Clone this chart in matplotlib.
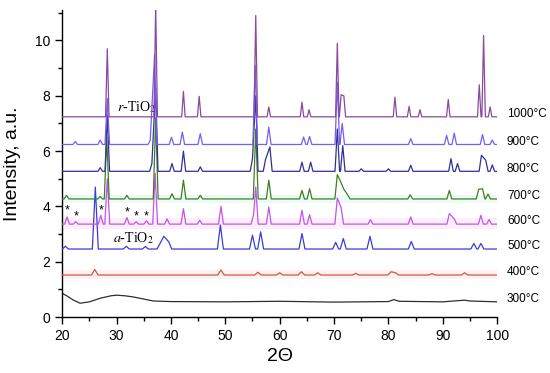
import matplotlib
matplotlib.use("Agg")
import matplotlib.pyplot as plt
from matplotlib.ticker import MultipleLocator

plt.rcParams['font.family'] = ['Liberation Sans', 'DejaVu Sans']

# temperatures (labels at right) and baseline levels
temps = ['300°C', '400°C', '500°C', '600°C', '700°C', '800°C', '900°C', '1000°C']
bases = [0.55, 1.52, 2.46, 3.36, 4.27, 5.27, 6.24, 7.24]
colors = ['#2e2e2e', '#cf5a36', '#3b3bdc', '#c254e8', '#3f7f22', '#30309a', '#7a5cf0', '#8a4a9e']

# 300 C: amorphous, traced as points
x300 = [20, 21, 22, 23.3, 25, 27, 29, 30, 31.5, 33, 35, 36.8, 40, 50, 60, 70, 80, 81, 82, 90, 94, 95, 100]
y300 = [0.86, 0.75, 0.62, 0.5, 0.55, 0.68, 0.77, 0.79, 0.77, 0.73, 0.65, 0.58, 0.56, 0.55, 0.57, 0.54, 0.56, 0.63, 0.57, 0.55, 0.61, 0.58, 0.55]

# peak positions (2-theta) and tops for the other patterns
pk400 = [26.0, 49.2, 56.0, 60.0, 64.0, 67.0, 74.0, 80.5, 81.3, 88.0, 94.0]
ht400 = [1.72, 1.70, 1.62, 1.6, 1.64, 1.6, 1.58, 1.64, 1.6, 1.57, 1.6]

pk500 = [20.6, 26.1, 31.8, 35.3, 38.0, 38.7, 39.6, 49.1, 55.0, 56.5, 64.1, 70.3, 71.7, 76.6, 84.2, 95.7, 97.0]
ht500 = [2.56, 4.70, 2.56, 2.55, 2.66, 2.92, 2.72, 3.33, 2.96, 3.08, 3.02, 2.70, 2.84, 2.92, 2.73, 2.66, 2.66]

pk600 = [20.9, 22.5, 27.1, 28.3, 31.9, 33.6, 35.5, 37.1, 39.3, 42.3, 45.3, 49.2, 55.2, 55.6, 58.0,
         64.1, 65.5, 70.6, 71.3, 76.7, 84.1, 91.2, 92.1, 97.0, 98.5]
ht600 = [3.62, 3.45, 3.68, 5.0, 3.60, 3.45, 3.48, 5.2, 3.55, 3.92, 3.50, 4.0, 3.7, 4.7, 3.98,
         3.86, 3.70, 4.3, 3.95, 3.52, 3.62, 3.74, 3.55, 3.68, 3.52]

pk700 = [20.8, 27.0, 28.2, 31.9, 37.2, 40.2, 42.3, 45.4, 55.6, 58.0, 64.1, 65.5, 70.6, 71.2, 71.8, 72.5,
         84.0, 91.2, 96.6, 97.3, 98.3]
ht700 = [4.40, 4.36, 6.5, 4.40, 7.2, 4.46, 4.95, 4.40, 6.8, 4.95, 4.58, 4.64, 5.15, 4.9, 4.62, 4.42,
         4.42, 4.58, 4.62, 4.64, 4.45]

pk800 = [27.0, 28.3, 36.5, 37.2, 40.2, 42.3, 45.4, 55.0, 55.6, 57.4, 58.2, 64.1, 65.7, 70.6, 71.6,
         75.0, 80.0, 84.1, 91.5, 92.7, 97.1, 97.9, 99.1]
ht800 = [5.40, 7.3, 5.55, 8.3, 5.55, 6.0, 5.43, 5.73, 8.0, 5.7, 6.15, 5.6, 5.6, 6.8, 6.2,
         5.36, 5.36, 5.49, 5.73, 5.55, 5.85, 5.67, 5.50]

pk900 = [22.4, 27.0, 28.3, 36.2, 37.0, 40.1, 42.1, 45.4, 55.5, 58.0, 64.4, 65.5, 70.6, 71.5,
         84.1, 90.7, 92.1, 97.3, 99.1]
ht900 = [6.35, 6.40, 7.9, 6.39, 9.5, 6.50, 6.69, 6.63, 9.1, 6.87, 6.51, 6.53, 8.5, 7.0,
         6.45, 6.57, 6.65, 6.60, 6.40]

pk1000 = [28.3, 37.2, 42.3, 45.2, 55.6, 58.0, 64.1, 65.4, 70.6, 71.3, 71.8, 81.2, 83.8, 85.8,
          91.0, 96.7, 97.5, 98.7]
ht1000 = [9.7, 11.3, 8.16, 7.98, 10.9, 7.6, 7.77, 7.5, 9.9, 8.04, 8.0, 7.95, 7.62, 7.5,
          7.87, 8.4, 10.18, 7.6]

peaks = [None, (pk400, ht400), (pk500, ht500), (pk600, ht600), (pk700, ht700),
         (pk800, ht800), (pk900, ht900), (pk1000, ht1000)]
widths = [0, 0.6, 0.55, 0.45, 0.45, 0.42, 0.42, 0.32]

# light halo bands seen behind some patterns: (low, high, colour)
bands = {1: (1.36, 1.70, '#fef1f4'), 3: (3.18, 3.58, '#fdeefa'), 4: (4.13, 4.42, '#ecfbf8')}


def trace(base, pos, hgt, hw):
    xs, ys = [20], [base]
    for p, h in sorted(zip(pos, hgt)):
        if xs[-1] > p - hw:
            # overlapping with previous peak: drop its right foot
            xs.pop(); ys.pop()
        else:
            xs.append(p - hw); ys.append(base)
        xs += [p, p + hw]
        ys += [h, base]
    xs.append(100); ys.append(base)
    return xs, ys


fig = plt.figure(figsize=(5.5, 3.73), dpi=100)
ax = fig.add_axes([0.113, 0.150, 0.791, 0.823])

for i, lab in enumerate(temps):
    if i in bands:
        lo, hi, bc = bands[i]
        ax.fill_between([20, 100], lo, hi, color=bc, lw=0, zorder=0)
    if peaks[i] is None:
        xs, ys = x300, y300
    else:
        xs, ys = trace(bases[i], peaks[i][0], peaks[i][1], widths[i])
    ax.plot(xs, ys, color=colors[i], lw=0.9, zorder=2 + i)
    ax.text(101.8, bases[i] + 0.1, lab, fontsize=8.5, va='center', ha='left', clip_on=False)

# annotations
ax.text(30.0, 7.6, r'$r$-TiO$_2$', fontsize=10, family=['Liberation Serif'],
        math_fontfamily='stix', va='center')
ax.text(29.4, 2.85, r'$a$-TiO$_2$', fontsize=10, family=['Liberation Serif'],
        math_fontfamily='stix', va='center')
star_x = [20.9, 22.5, 27.1, 31.9, 33.6, 35.5]
star_y = [3.86, 3.62, 3.86, 3.77, 3.65, 3.65]
for sx, sy in zip(star_x, star_y):
    ax.text(sx, sy, '*', fontsize=9, ha='center', va='center')

ax.set_xlim(20, 100)
ax.set_ylim(0, 11.1)
ax.xaxis.set_major_locator(MultipleLocator(10))
ax.xaxis.set_minor_locator(MultipleLocator(5))
ax.yaxis.set_major_locator(MultipleLocator(2))
ax.yaxis.set_minor_locator(MultipleLocator(1))
ax.tick_params(which='major', direction='out', length=5, width=1, labelsize=10)
ax.tick_params(which='minor', direction='out', length=3, width=1)
for s in ['top', 'right']:
    ax.spines[s].set_visible(False)
for s in ['left', 'bottom']:
    ax.spines[s].set_linewidth(1)

ax.set_xlabel('2\u0398', fontsize=14, labelpad=4)
ax.set_ylabel('Intensity, a.u.', fontsize=14, labelpad=10)

fig.savefig('out.png', dpi=100)
